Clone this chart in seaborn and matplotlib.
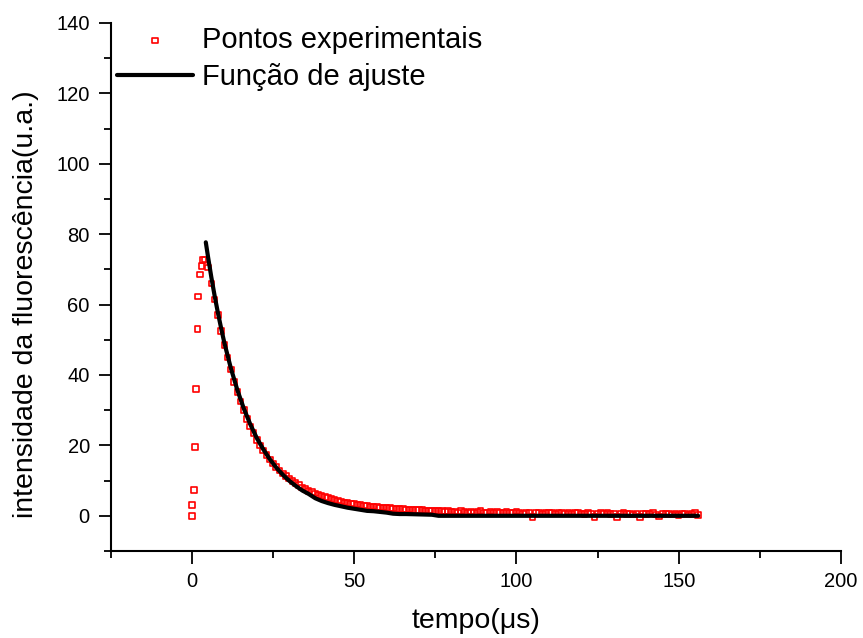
import numpy as np
import pandas as pd
import matplotlib
matplotlib.use("Agg")
import matplotlib.pyplot as plt
import seaborn as sns
from matplotlib.ticker import MultipleLocator

# ---------------- data ----------------
rise_t = [0.0, 0.0, 0.6, 1.0, 1.2, 1.8, 1.9, 2.5, 3.0, 3.5]
rise_v = [0.0, 3.1, 7.4, 19.5, 36.0, 53.0, 62.3, 68.6, 71.0, 72.7]

decay_t = list(range(4, 77))
decay_v = [72.8, 70.5, 66.0, 61.5, 57.0, 52.5, 48.5, 45.0, 41.5, 38.0,
           35.2, 32.5, 30.0, 27.5, 25.4, 23.5, 21.6, 20.0, 18.6, 17.2,
           16.0, 14.8, 13.8, 12.9, 12.0, 11.3, 10.6, 9.9, 9.3, 8.7,
           8.1, 7.6, 7.1, 6.7, 6.3, 5.9, 5.6, 5.3, 5.0, 4.7,
           4.5, 4.3, 4.0, 3.8, 3.7, 3.5, 3.3, 3.2, 3.1, 2.9,
           2.8, 2.7, 2.6, 2.5, 2.4, 2.3, 2.2, 2.2, 2.1, 2.0,
           2.0, 1.9, 1.8, 1.8, 1.7, 1.7, 1.6, 1.6, 1.5, 1.5,
           1.4, 1.4, 1.3]

tail_t = list(range(77, 157))
tail_v = [1.3, 1.2, 1.4, 1.1, 1.2, 1.0, 1.3, 1.1, 0.9, 1.2,
          1.0, 1.1, 1.3, 0.9, 1.0, 1.2, 0.8, 1.1, 1.0, 0.9,
          1.1, 0.8, 1.0, 1.2, 0.9, 0.7, 1.0, 0.9, -0.4, 0.8,
          1.0, 0.7, 0.9, 0.8, 1.0, 0.6, 0.9, 0.8, 0.7, 1.0,
          0.6, 0.8, 0.9, 0.7, 0.5, 0.8, 0.6, -0.3, 0.7, 0.9,
          0.6, 0.8, 0.5, 0.7, -0.4, 0.6, 0.8, 0.5, 0.7, 0.4,
          0.6, -0.3, 0.7, 0.5, 0.6, 0.8, 0.4, -0.2, 0.6, 0.5,
          0.7, 0.4, 0.6, 0.3, 0.5, 0.7, 0.4, 0.5, 0.8, 0.3]

fit_t = [4.3, 5, 6, 7, 8, 9, 10, 12, 14, 16, 18, 20, 22, 24, 26, 28, 30,
         32, 34, 36, 38, 40, 42, 44, 46, 48, 50, 52, 54, 56, 58, 60, 62,
         64, 66, 70, 74, 76, 156]
fit_v = [77.7, 73.5, 67.8, 62.6, 57.8, 53.4, 49.2, 42.0, 35.8, 30.5, 26.0,
         22.1, 18.9, 16.1, 13.7, 11.7, 9.95, 8.5, 7.2, 6.2, 5.0, 4.2, 3.6,
         3.1, 2.7, 2.3, 2.0, 1.7, 1.4, 1.3, 1.1, 0.9, 0.6, 0.5, 0.5, 0.4,
         0.3, 0.0, 0.0]

x_ticks = [0, 50, 100, 150, 200]
y_ticks = [0, 20, 40, 60, 80, 100, 120, 140]

label_exp = "Pontos experimentais"
label_fit = "Função de ajuste"
xlabel = "tempo(μs)"
ylabel = "intensidade da fluorescência(u.a.)"

exp_df = pd.DataFrame({"t": rise_t + decay_t + tail_t,
                       "v": rise_v + decay_v + tail_v})
fit_df = pd.DataFrame({"t": fit_t, "v": fit_v})

# ---------------- style ----------------
sns.set_style("ticks")
plt.rcParams["font.family"] = ["Liberation Sans", "DejaVu Sans"]
plt.rcParams["text.color"] = "black"
plt.rcParams["axes.labelcolor"] = "black"

fig = plt.figure(figsize=(8.63, 6.38), dpi=100)
ax = fig.add_axes([110.7 / 863, 1 - 551 / 638, (841 - 110.7) / 863, (551 - 23) / 638])

sns.scatterplot(data=exp_df, x="t", y="v", ax=ax, marker="s", s=16,
                facecolor="none", edgecolor="red", linewidth=1.2,
                label=label_exp, zorder=2)
sns.lineplot(data=fit_df, x="t", y="v", ax=ax, color="black", linewidth=3.0,
             label=label_fit, zorder=3, sort=False)

ax.set_xlim(-25, 200)
ax.set_ylim(-10, 140)
ax.set_xticks(x_ticks)
ax.set_yticks(y_ticks)
ax.xaxis.set_minor_locator(MultipleLocator(25))
ax.yaxis.set_minor_locator(MultipleLocator(10))

for side in ["top", "right"]:
    ax.spines[side].set_visible(False)
for side in ["left", "bottom"]:
    ax.spines[side].set_linewidth(1.5)
    ax.spines[side].set_color("black")

ax.tick_params(which="major", direction="out", length=9, width=1.3,
               labelsize=14.5, colors="black", labelcolor="black", pad=6)
ax.tick_params(which="minor", direction="out", length=5, width=1.3, colors="black")

ax.set_xlabel(xlabel, fontsize=20.5, labelpad=12, color="black")
ax.set_ylabel(ylabel, fontsize=20.5, color="black")
ax.yaxis.set_label_coords(-0.098, 0.467)

handles, labels = ax.get_legend_handles_labels()
leg = ax.legend(handles, labels, loc="upper left",
                bbox_to_anchor=(117 / 863, 1 - 26 / 638),
                bbox_transform=fig.transFigure, frameon=False, fontsize=21,
                handlelength=2.6, handletextpad=0.3, borderpad=0,
                borderaxespad=0, labelspacing=0.3, scatterpoints=1)
for txt in leg.get_texts():
    txt.set_color("black")

fig.savefig("out.png", dpi=100)
